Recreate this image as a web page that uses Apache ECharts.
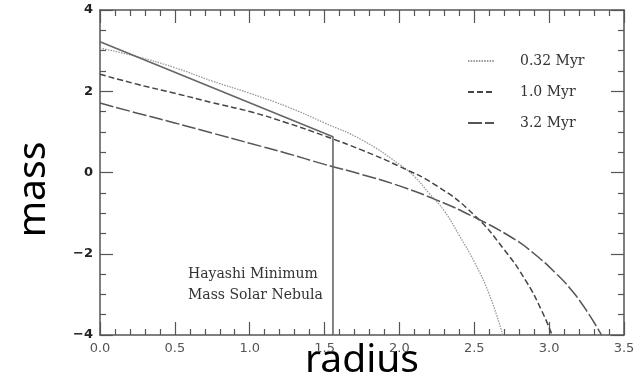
<!DOCTYPE html>
<html>
<head>
<meta charset="utf-8">
<script src="https://cdn.jsdelivr.net/npm/echarts@6/dist/echarts.min.js"></script>
<style>
  html, body { margin: 0; padding: 0; background: #fff; }
  #chart { width: 644px; height: 377px; }
</style>
</head>
<body>
<div id="chart"></div>
<script>
// Tick labels
const xTickLabels = ['0.0', '0.5', '1.0', '1.5', '2.0', '2.5', '3.0', '3.5'];
const yTickLabels = ['\u22124', '\u22122', '0', '2', '4'];

// Surface density profiles (log radius vs log mass) at three disk ages
const r032 = [0, 0.25, 0.5, 0.75, 1.0, 1.25, 1.5, 1.75, 2.0, 2.1, 2.2, 2.3, 2.4, 2.5, 2.6, 2.69];
const m032 = [3.06, 2.85, 2.58, 2.25, 1.95, 1.62, 1.22, 0.8, 0.2, -0.1, -0.52, -0.95, -1.55, -2.2, -3.0, -4.0];

const r10 = [0, 0.25, 0.5, 0.75, 1.0, 1.25, 1.5, 1.75, 2.0, 2.25, 2.5, 2.7, 2.85, 2.95, 3.02];
const m10 = [2.42, 2.17, 1.95, 1.72, 1.5, 1.22, 0.9, 0.55, 0.15, -0.33, -1.05, -1.9, -2.7, -3.4, -4.0];

const r32 = [0, 0.25, 0.5, 0.75, 1.0, 1.25, 1.5, 1.75, 2.0, 2.25, 2.5, 2.75, 2.9, 3.05, 3.15, 3.25, 3.35];
const m32 = [1.71, 1.46, 1.22, 0.97, 0.72, 0.47, 0.2, -0.05, -0.33, -0.68, -1.1, -1.6, -2.0, -2.5, -2.9, -3.4, -4.0];

// Hayashi minimum-mass solar nebula, truncated at its outer edge
const rMMSN = [0, 1.556, 1.556];
const mMMSN = [3.22, 0.88, -4.0];

const seriesNames = ['0.32 Myr', '1.0 Myr', '3.2 Myr'];

const pairs = (xs, ys) => xs.map((x, i) => [x, ys[i]]);

const frameColor = '#555';
const serifFont = 'DejaVu Serif';

const tickCommon = {
  show: true, inside: true, length: 13,
  lineStyle: { color: frameColor, width: 1.2 }
};

function xAxisOf(position, showLabels) {
  return {
    type: 'value', position: position, min: 0, max: 3.5, interval: 0.5,
    axisLine: { show: true, onZero: false, lineStyle: { color: frameColor, width: 1.5 } },
    axisTick: tickCommon,
    minorTick: { show: true, splitNumber: 5, length: 6, lineStyle: { color: frameColor, width: 1.2 } },
    splitLine: { show: false },
    axisLabel: {
      show: showLabels, margin: 7, color: '#555', fontSize: 13,
      fontFamily: 'DejaVu Sans',
      formatter: v => xTickLabels[Math.round(v / 0.5)]
    }
  };
}

function yAxisOf(position, showLabels) {
  return {
    type: 'value', position: position, min: -4, max: 4, interval: 2,
    axisLine: { show: true, onZero: false, lineStyle: { color: frameColor, width: 1.5 } },
    axisTick: tickCommon,
    minorTick: { show: true, splitNumber: 4, length: 6, lineStyle: { color: frameColor, width: 1.2 } },
    splitLine: { show: false },
    axisLabel: {
      show: showLabels, margin: 7, color: '#222', fontSize: 13, fontWeight: 'bold',
      fontFamily: 'DejaVu Sans',
      formatter: v => yTickLabels[Math.round((v + 4) / 2)]
    }
  };
}

const bottomX = xAxisOf('bottom', true);
bottomX.name = 'radius';
bottomX.nameLocation = 'middle';
bottomX.nameGap = 6;
bottomX.nameMoveOverlap = false;
bottomX.nameTextStyle = { fontSize: 39, fontFamily: 'Noto Sans', color: '#000' };

const leftY = yAxisOf('left', true);
leftY.name = 'mass';
leftY.nameLocation = 'middle';
leftY.nameGap = 47;
leftY.nameMoveOverlap = false;
leftY.nameTextStyle = { fontSize: 39, fontFamily: 'Noto Sans', color: '#000', padding: [0, 34, 0, 0] };

const chart = echarts.init(document.getElementById('chart'), null, { renderer: 'canvas' });

const curveStyles = [
  { color: '#999', width: 1.3, type: [1.5, 1.2] },
  { color: '#444', width: 1.5, type: [6, 3] },
  { color: '#555', width: 1.5, type: [14, 3] }
];

chart.setOption({
  animation: false,
  backgroundColor: '#fff',
  grid: { left: 100, right: 20, top: 10, bottom: 42, outerBoundsMode: 'none', containLabel: false },
  xAxis: [bottomX, xAxisOf('top', false)],
  yAxis: [leftY, yAxisOf('right', false)],
  legend: {
    data: seriesNames,
    orient: 'vertical',
    left: 467, top: 54, padding: 0,
    itemWidth: 26, itemHeight: 14, itemGap: 17,
    itemStyle: { color: 'transparent', borderColor: 'transparent', borderWidth: 0, opacity: 0 },
    textStyle: { fontFamily: serifFont, fontSize: 14, color: '#333', padding: [0, 0, 0, 21] }
  },
  graphic: [{
    type: 'text', x: 188, y: 264,
    style: {
      text: 'Hayashi Minimum\nMass Solar Nebula',
      font: '14px "DejaVu Serif"', fill: '#333', lineHeight: 21, verticalAlign: 'top'
    }
  }],
  series: [
    {
      name: seriesNames[0], type: 'line', data: pairs(r032, m032), smooth: 0.5,
      showSymbol: false, symbol: 'none',
      itemStyle: { color: curveStyles[0].color },
      lineStyle: curveStyles[0]
    },
    {
      name: seriesNames[1], type: 'line', data: pairs(r10, m10), smooth: 0.5,
      showSymbol: false, symbol: 'none',
      itemStyle: { color: curveStyles[1].color },
      lineStyle: curveStyles[1]
    },
    {
      name: seriesNames[2], type: 'line', data: pairs(r32, m32), smooth: 0.5,
      showSymbol: false, symbol: 'none',
      itemStyle: { color: curveStyles[2].color },
      lineStyle: curveStyles[2]
    },
    {
      name: 'Hayashi MMSN', type: 'line', data: pairs(rMMSN, mMMSN),
      showSymbol: false, symbol: 'none',
      itemStyle: { color: '#666' },
      lineStyle: { color: '#666', width: 1.6, type: 'solid' }
    }
  ]
});
</script>
</body>
</html>
